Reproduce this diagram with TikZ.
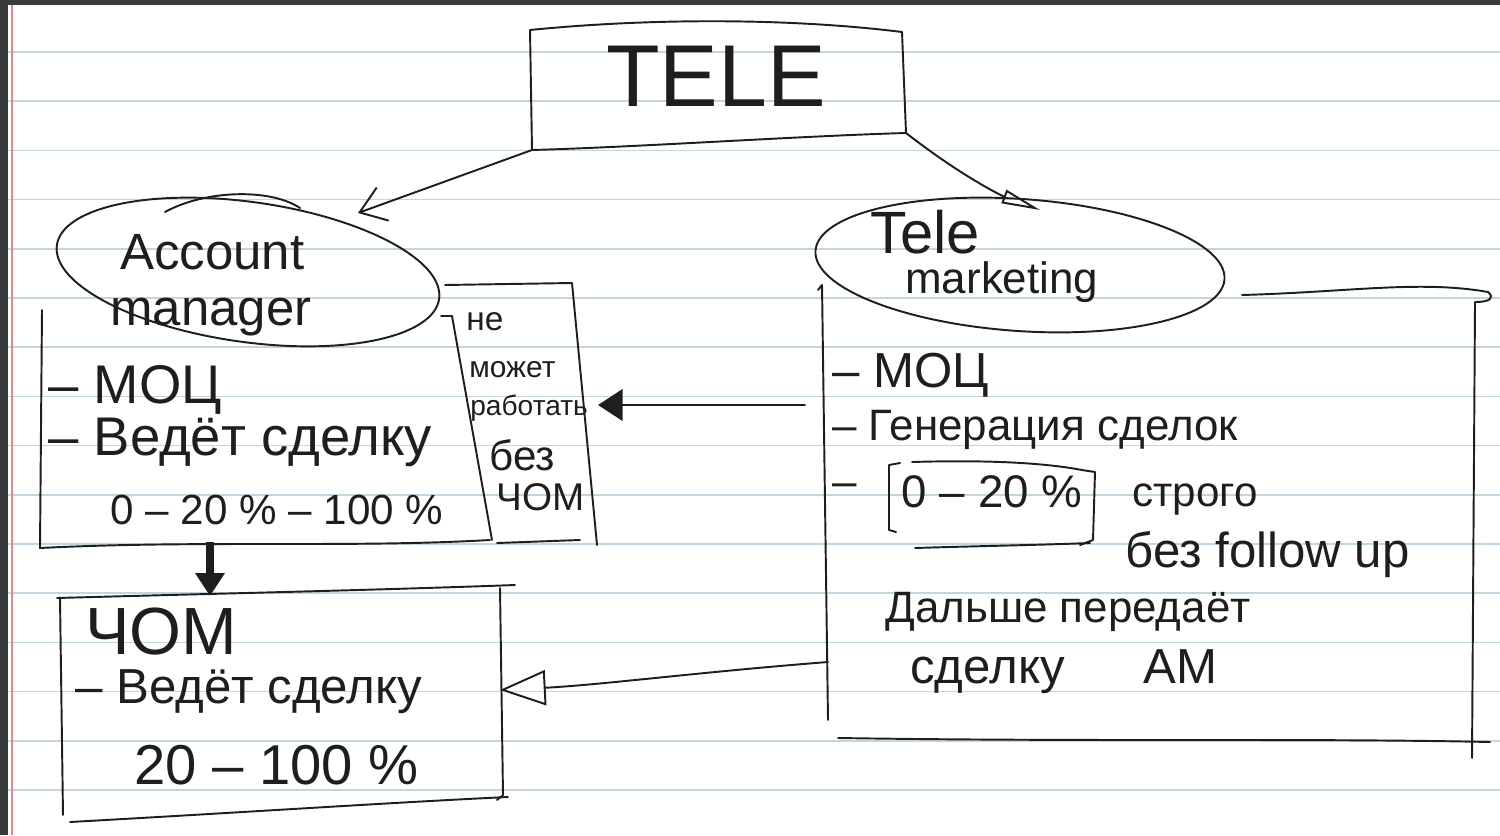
\documentclass[tikz,border=0pt]{standalone}
\usepackage{fontspec}
\setmainfont{Liberation Sans}
\usetikzlibrary{arrows.meta}
\definecolor{ink}{HTML}{1E1E1E}
\definecolor{paper}{HTML}{C3D5DE}
\definecolor{margin}{HTML}{D98C8C}
\definecolor{frame}{HTML}{3A3A3A}
\newcommand{\handsize}[1]{\fontsize{#1}{#1}\selectfont}

\begin{document}
\begin{tikzpicture}[x=0.02cm, y=-0.02cm,
    pen/.style={draw=ink, line width=1.1pt, line cap=round, line join=round},
    hand/.style={anchor=west, inner sep=0pt, text=ink, font=\handsize{#1}},
    barb/.style={pen, -{Straight Barb[length=14pt, width=20pt]}}
  ]
  \useasboundingbox (0,0) rectangle (1500,835);

  % Paper: dark frame, ruling and the red margin
  \fill[frame] (0,0) rectangle (1500,5);
  \fill[frame] (0,0) rectangle (8,835);
  \foreach \k in {0,...,15}
    \draw[paper, line width=0.9pt] (8,{52+49.2*\k}) -- (1500,{52+49.2*\k});
  \draw[margin, line width=0.9pt] (12,5) -- (12,835);

  % Top box
  \coordinate (teleNW) at (530,30);
  \coordinate (teleNE) at (902,32);
  \coordinate (teleSE) at (906,133);
  \coordinate (teleSW) at (532,150);
  \draw[pen] (teleNW) .. controls (650,18) and (790,18) .. (teleNE) -- (teleSE)
    .. controls (800,136) and (640,147) .. (teleSW) -- cycle;
  \node[hand=50, anchor=center] (tele) at (716,76) {TELE};

  % Account manager oval
  \coordinate (amC) at (248,272);
  \draw[pen, rotate around={-8:(amC)}] (amC) ellipse (193 and 70);
  \draw[pen] (165,212) .. controls (205,190) and (270,188) .. (300,208);
  \node[hand=29] (amTop) at (120,252) {Account};
  \node[hand=29] (amBot) at (110,317) {manager};

  % Account manager duties
  \draw[pen] (42,310) -- (40,548) .. controls (200,540) and (350,548) .. (490,540);
  \node[hand=31] (am1) at (48,390) {– МОЦ};
  \node[hand=31] (am2) at (48,442) {– Ведёт сделку};
  \node[hand=24] (am3) at (110,510) {0 – 20 \% – 100 \%};

  % Side note next to the account manager
  \draw[pen] (441,316) -- (452,316) -- (492,540);
  \draw[pen] (445,285) -- (572,283) -- (597,545);
  \draw[pen] (497,543) -- (580,540);
  \node[hand=19] (no1) at (466,322) {не};
  \node[hand=17] (no2) at (469,370) {может};
  \node[hand=16] (no3) at (470,408) {работать};
  \node[hand=24] (no4) at (489,455) {без};
  \node[hand=22] (no5) at (496,497) {ЧОМ};

  % Telemarketing oval
  \coordinate (tmC) at (1020,265);
  \draw[pen, rotate around={-4:(tmC)}] (tmC) ellipse (205 and 66);
  \node[hand=34] (tmTop) at (870,232) {Tele};
  \node[hand=25] (tmBot) at (905,282) {marketing};

  % Telemarketing duties
  \draw[pen] (818,290) -- (822,285) -- (828,720);
  \draw[pen] (1242,295) .. controls (1350,292) and (1420,280) .. (1488,292)
    .. controls (1495,298) and (1490,302) .. (1475,302) -- (1472,758);
  \draw[pen] (838,738) .. controls (1100,742) and (1300,738) .. (1490,742);
  \node[hand=28] (tm1) at (832,375) {– МОЦ};
  \node[hand=25] (tm2) at (832,430) {– Генерация сделок};
  \node[hand=25] (tm3) at (832,490) {–};
  \node[hand=26, anchor=center] (tm4) at (992,492) {0 – 20 \%};
  \draw[pen] (900,463) -- (889,465) -- (889,530) -- (896,532);
  \draw[pen] (912,462) .. controls (980,460) and (1040,462) .. (1082,470)
    -- (1095,472) -- (1093,540) -- (1080,545);
  \draw[pen] (915,548) .. controls (980,546) and (1040,545) .. (1090,543);
  \node[hand=24] (tm5) at (1132,500) {строго};
  \node[hand=28] (tm6) at (1125,555) {без follow up};
  \node[hand=25] (tm7) at (885,612) {Дальше передаёт};
  \node[hand=28] (tm8) at (910,672) {сделку\hspace{1.6em}AM};

  % ЧОМ box
  \draw[pen] (57,598) .. controls (200,594) and (380,590) .. (515,585);
  \draw[pen] (60,598) -- (63,815);
  \draw[pen] (500,588) -- (503,795) -- (497,800);
  \draw[pen] (70,822) .. controls (250,812) and (400,802) .. (508,797);
  \node[hand=38] (ch1) at (85,632) {ЧОМ};
  \node[hand=28] (ch2) at (75,692) {– Ведёт сделку};
  \node[hand=32] (ch3) at (134,765) {20 – 100 \%};

  % Connectors
  \coordinate (amIn) at (358,213);
  \coordinate (tmIn) at (1040,210);
  \coordinate (tmOut) at (805,405);
  \coordinate (noteIn) at (598,405);
  \coordinate (tmOut2) at (828,662);
  \coordinate (chIn) at (500,690);
  \coordinate (amOut) at (210,542);
  \coordinate (chTop) at (210,596);
  \draw[barb] (teleSW) -- (amIn);
  \draw[pen, -{Triangle[open, length=22pt, width=8pt]}] (teleSE)
    .. controls (960,175) and (1000,195) .. (tmIn);
  \draw[pen, -{Triangle[length=14pt, width=18pt]}] (tmOut) -- (noteIn);
  \draw[pen, -{Triangle[open, length=26pt, width=20pt]}] (tmOut2)
    .. controls (700,672) and (600,685) .. (chIn);
  \draw[ink, line width=4pt, -{Triangle[length=13pt, width=16pt]}] (amOut) -- (chTop);
\end{tikzpicture}
\end{document}
